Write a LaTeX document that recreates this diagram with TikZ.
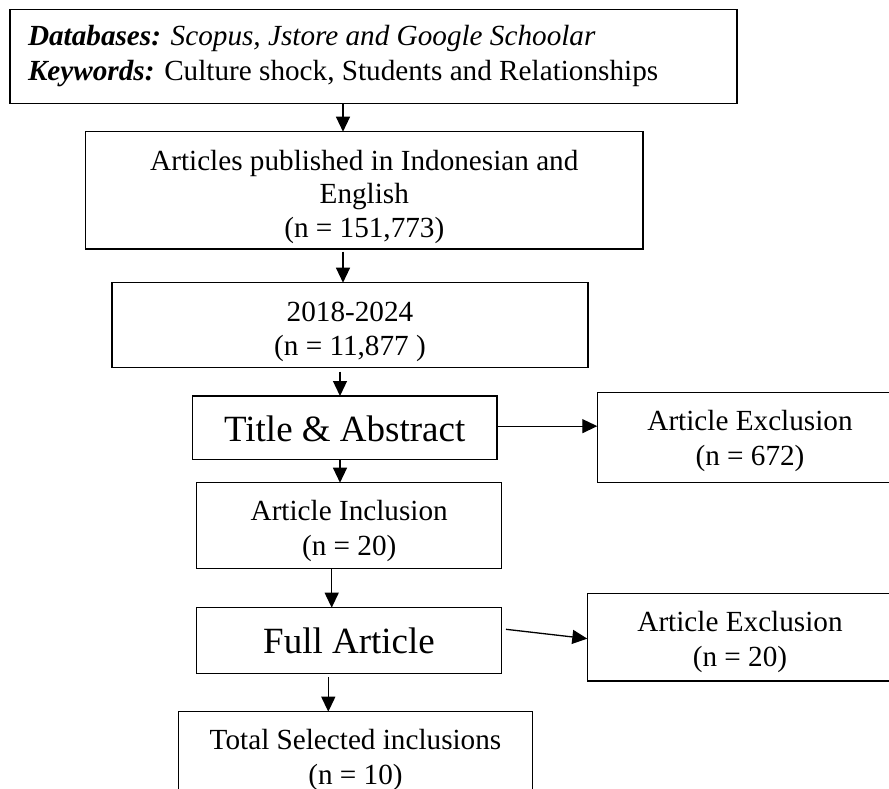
\documentclass[tikz,border=0pt]{standalone}
\usepackage{fontspec}
\setmainfont{Liberation Serif}
\usetikzlibrary{arrows.meta,calc}
\begin{document}
\begin{tikzpicture}[x=1pt,y=-1pt,
  box/.style={draw, line width=1.3pt, inner sep=0pt, outer sep=0pt, anchor=north west},
  txt/.style={inner sep=0pt, outer sep=0pt, anchor=base, align=center, font=\fontsize{29.2}{34.5}\selectfont},
  bigtxt/.style={inner sep=0pt, outer sep=0pt, anchor=base, font=\fontsize{37}{44}\selectfont},
  arr/.style={line width=1.3pt, -{Triangle[length=15pt,width=14pt]}}]
\useasboundingbox (0,0) rectangle (889,789);
\clip (0,0) rectangle (889,789);
% boxes
\node[box, minimum width=727pt, minimum height=94pt]   (b1) at (10,9.3) {};
\node[box, minimum width=557.3pt, minimum height=117.3pt] (b2) at (85.7,131.7) {};
\node[box, minimum width=476pt, minimum height=85pt]   (b3) at (112,282.7) {};
\node[box, minimum width=304.3pt, minimum height=63.3pt] (b4) at (192.7,396) {};
\node[box, minimum width=305pt, minimum height=90.4pt] (b5) at (597.3,392.3) {};
\node[box, minimum width=305pt, minimum height=85.6pt] (b6) at (196.7,482.7) {};
\node[box, minimum width=305pt, minimum height=65.6pt] (b7) at (196.7,607.7) {};
\node[box, minimum width=305.4pt, minimum height=87.7pt] (b8) at (587.3,593.3) {};
\node[box, minimum width=354pt, minimum height=90pt]   (b9) at (178.3,711.7) {};
% texts (anchor = baseline of the last line)
\node[txt, anchor=base west, align=left, font=\fontsize{29.2}{35}\selectfont] (t1) at (28,80.5)
  {\textbf{\textit{Databases:}} \textit{Scopus, Jstore and Google Schoolar}\\
   \textbf{\textit{Keywords:}} Culture shock, Students and Relationships};
\node[txt, font=\fontsize{29.2}{33.7}\selectfont] (t2) at (364.3,237.5)
  {Articles published in Indonesian and\\English\\(n = 151,773)};
\node[txt, font=\fontsize{29.2}{33.3}\selectfont] (t3) at (350,355) {2018-2024\\(n = 11,877 )};
\node[bigtxt] (t4) at (344.7,441.7) {Title \& Abstract};
\node[txt, font=\fontsize{29.2}{35}\selectfont] (t5) at (750,465) {Article Exclusion\\(n = 672)};
\node[txt, font=\fontsize{29.2}{35}\selectfont] (t6) at (349.2,555.5) {Article Inclusion\\(n = 20)};
\node[bigtxt] (t7) at (349,653.3) {Full Article};
\node[txt, font=\fontsize{29.2}{35.3}\selectfont] (t8) at (740,666.5) {Article Exclusion\\(n = 20)};
\node[txt, font=\fontsize{29.2}{34.5}\selectfont] (t9) at (355.5,784) {Total Selected inclusions\\(n = 10)};
% connector x positions
\coordinate (x1) at (343,0);
\coordinate (x3) at (340,0);
\coordinate (x5) at (331.7,0);
\coordinate (x6) at (328.3,0);
% connectors
\draw[arr] (b1.south -| x1) -- (b2.north -| x1);
\draw[arr, shorten <=2.7pt] (b2.south -| x1) -- (b3.north -| x1);
\draw[arr, shorten <=4pt] (b3.south -| x3) -- (b4.north -| x3);
\draw[arr] (b4.south -| x3) -- (b6.north -| x3);
\draw[arr] ([yshift=1.5pt]b4.east) -- ([yshift=1.5pt]b4.east -| b5.west);
\draw[arr] (b6.south -| x5) -- (b7.north -| x5);
\draw[arr] ([shift={(4.3,-11.2)}]b7.east) -- ([shift={(0,1.5)}]b8.west);
\draw[arr, shorten <=4pt] (b7.south -| x6) -- (b9.north -| x6);
\end{tikzpicture}
\end{document}
